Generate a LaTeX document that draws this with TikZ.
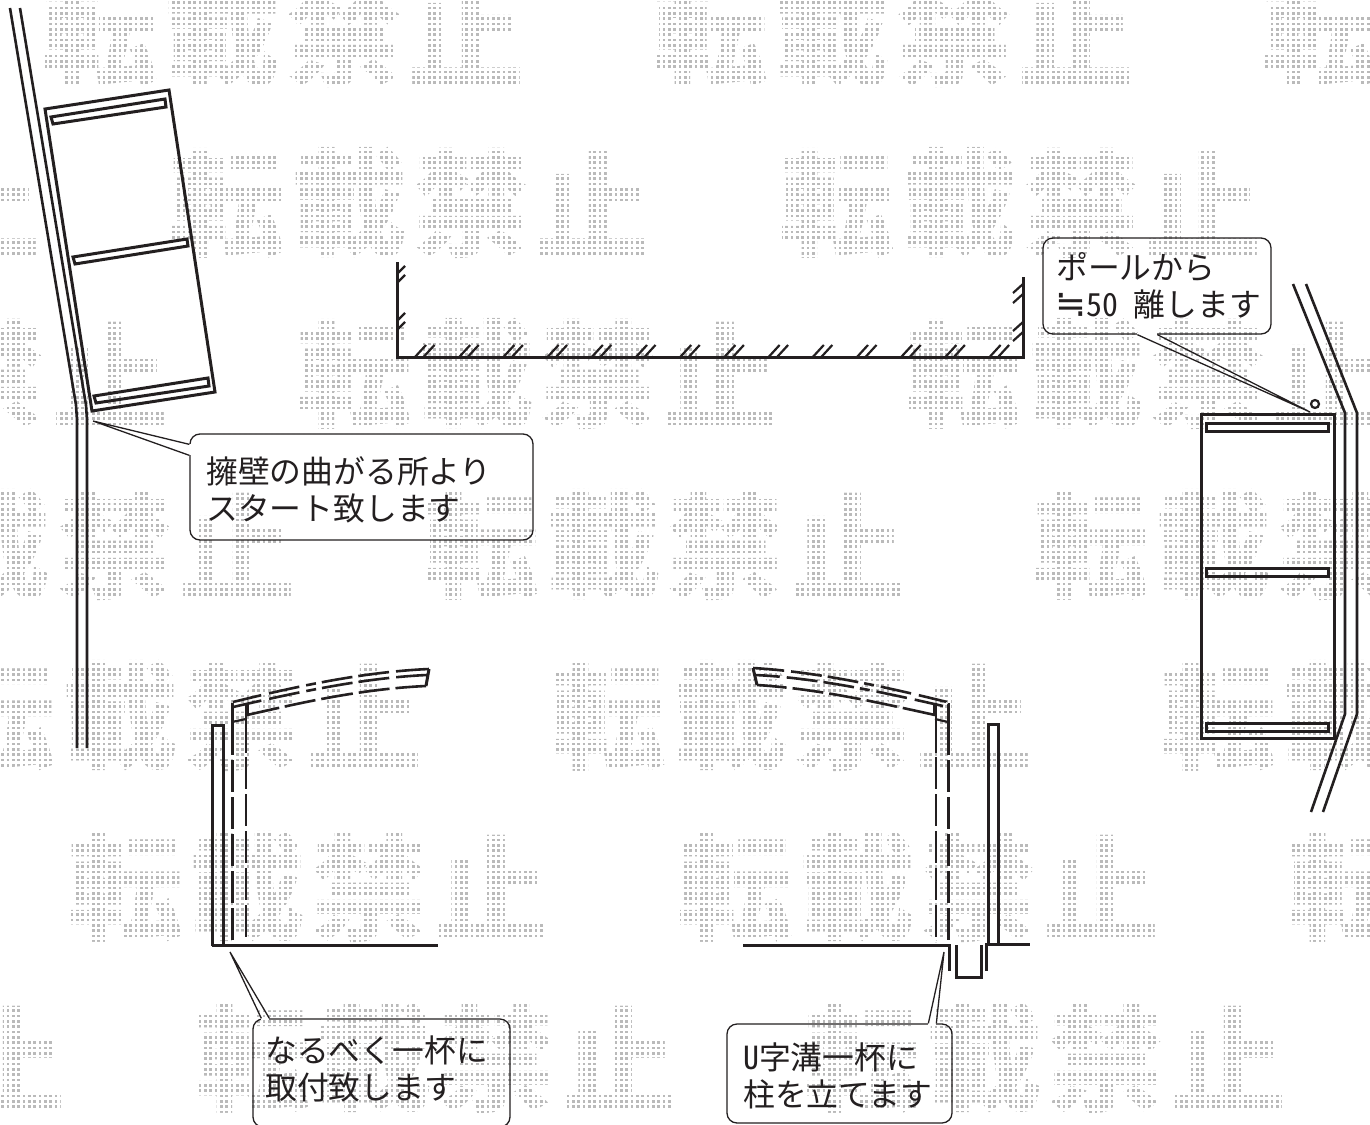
\documentclass[tikz,border=0pt]{standalone}
\usepackage{fontspec}
\usetikzlibrary{calc}
\newfontfamily\cjk[RawFeature=+hwid]{Noto Sans CJK JP}
\newfontfamily\cjkmark{Noto Sans CJK JP Black}
\newfontfamily\symfont{DejaVu Sans}
\definecolor{inkline}{HTML}{231F20}
\tikzset{
  wall/.style={line width=2.6,inkline},
  mainline/.style={line width=3,inkline},
  hatch/.style={line width=2.2,inkline},
  thinline/.style={line width=1.3,inkline},
  bubble/.style={draw=inkline,line width=1.3,rounded corners=10},
  notetext/.style={anchor=west,align=left,inner sep=0,inkline,font=\cjk\fontsize{31.8}{37}\selectfont},
  markchar/.style={inner sep=0,text=black!27,font=\cjkmark\fontsize{116}{116}\selectfont},
  postline/.style={line width=3,inkline,dash pattern=on 52 off 5 on 32 off 5 on 32 off 5 on 32 off 5 on 32 off 5 on 32 off 5},
  postthin/.style={line width=2.4,inkline,dash pattern=on 50 off 4 on 32 off 5 on 32 off 5 on 32 off 5 on 32 off 5 on 32 off 5},
  roofline/.style={line width=2.6,inkline,dash pattern=on 29 off 8 on 31 off 7 on 10 off 6 on 31 off 6 on 31 off 7 on 40 off 9},
  roofunder/.style={line width=2.6,inkline,dash pattern=on 33 off 6 on 31 off 6 on 32 off 6 on 31 off 6 on 32 off 6}
}
\begin{document}
\begin{tikzpicture}[x=1pt,y=-1pt]
\useasboundingbox (0,0) rectangle (1370,1124);
\clip (0,0) rectangle (1370,1124);

%WASSERZEICHEN
\foreach \r/\ya/\xa in {0/32/100,1/203/227,2/374/354,3/545/481,4/716/-2,5/887/125,6/1058/252}{
  \foreach \p in {-1,0,1,2}{
    \foreach \c [count=\i] in {転,載,禁,止}{
      \node [markchar] (m\r\p\i) at ({\xa+610*\p+122*(\i-1)},\ya) {\c};
    }
  }
}
\draw [white,line width=2.5,xstep=5.333pt,ystep=5.333pt] (0,1124) grid (1370,0);

%WAND LINKS
\draw [wall] (10,8) -- (76,405) -- (77,420) -- (77,748);
\draw [wall] (20,8) -- (86,405) -- (87,420) -- (87,748);

%TAFEL LINKS
\draw [mainline] (45,109) -- (169,90) -- (215,392) -- (92,411) -- cycle;
\draw [mainline] (51,117) -- (165,99) -- (166,107) -- (53,124) -- cycle;
\draw [mainline] (73,257) -- (187,239) -- (188,246) -- (75,264) -- cycle;
\draw [mainline] (94,396) -- (208,378) -- (209,386) -- (96,403) -- cycle;

%BLASE LINKS
\node [bubble,minimum width=343,minimum height=106] (wallnote) at (361.5,487) {};
\node [notetext] (walltext) at (206,490) {擁壁の曲がる所より\\スタート致します};

%GRUNDRISS MITTE
\draw [mainline] (397,262) -- (397,357) -- (1023,357) -- (1023,277);
\foreach \k in {0,...,13}{
  \draw [hatch] ({415+44.2*\k},357) -- ++(11,-12);
  \draw [hatch] ({423.5+44.2*\k},357) -- ++(11,-12);
}
\foreach \y in {274,283,321,330}{
  \draw [hatch] (397,\y) -- ++(8,-8);
}
\foreach \y in {284,294,322,332}{
  \draw [hatch] (1023,\y) -- ++(-10,9);
}

%TAFEL RECHTS
\draw [mainline] (1201,414) rectangle (1334,738);
\draw [mainline] (1206,423) rectangle (1328,431);
\draw [mainline] (1206,568) rectangle (1328,576);
\draw [mainline] (1206,723) rectangle (1328,731);
\draw [hatch] (1315,404) circle (4);

%WAND RECHTS
\draw [wall] (1293,284) -- (1345,413) -- (1345,714) -- (1311,812);
\draw [wall] (1306,284) -- (1357,413) -- (1357,714) -- (1323,812);

%BLASE RECHTS
\node [bubble,minimum width=228,minimum height=96] (polenote) at (1157,286) {};
\node [notetext] (poletext) at (1056,285.5) {ポールから\\\makebox[30pt][c]{\symfont\fontsize{37}{37}\selectfont ≒}50 離します};

%SCHNITT LINKS
\draw [mainline] (212,946) -- (212,725) -- (223,725) -- (223,946);
\draw [mainline] (212,945.5) -- (438,945.5);
\draw [postline] (232.5,703) -- (232.5,941);
\draw [postthin] (246,703) -- (246,939);
\draw [roofline] (233,702) .. controls (290,688) and (360,672) .. (429,669);
\draw [roofline] (233,707) .. controls (290,694) and (360,678) .. (427,675);
\draw [roofunder] (247,715) .. controls (300,703) and (360,689) .. (426,686);
\draw [mainline] (429,669) -- (426,686);
\draw [hatch] (232,722) -- (246,719);
\fill [inkline] (245,704) rectangle (249,715);
\fill [white] (235,704) circle (1.3);

%BLASE UNTEN LINKS
\node [bubble,minimum width=257,minimum height=108] (leftnote) at (381.5,1073) {};
\node [notetext] (lefttext) at (265,1069) {なるべく一杯に\\取付致します};

%SCHNITT RECHTS
\draw [mainline] (988,945) -- (988,724) -- (998,724) -- (998,945);
\draw [mainline] (743,945) -- (949,945) -- (949,971);
\draw [mainline] (956,945) -- (956,977) -- (981,977) -- (981,945);
\draw [mainline] (986,971) -- (986,944) -- (1030,944);
\draw [postthin] (936,703) -- (936,942);
\draw [postline] (948,703) -- (948,942);
\draw [roofline] (947,702) .. controls (890,688) and (820,672) .. (753,668);
\draw [roofline] (943,706) .. controls (890,694) and (820,678) .. (755,675);
\draw [roofunder] (935,715) .. controls (880,703) and (820,689) .. (757,685);
\draw [mainline] (753,668) -- (757,685);
\draw [hatch] (935,719) -- (948,722);
\fill [inkline] (933,703) rectangle (937,715);
\fill [white] (946.5,703.5) circle (1.3);

%BLASE UNTEN RECHTS
\node [bubble,minimum width=225,minimum height=99] (ditchnote) at (839.5,1073.5) {};
\node [notetext] (ditchtext) at (743,1075.5) {U字溝一杯に\\柱を立てます};

%ZEIGER
\coordinate (walltip) at (93,421);
\coordinate (poletip) at (1310,412);
\coordinate (lefttip) at (230,952);
\coordinate (ditchtip) at (944,952);
\draw [white,line width=2.4] ($(wallnote.north west)+(0,11)$) -- ($(wallnote.north west)+(0,22)$);
\draw [thinline] ($(wallnote.north west)+(0,11)$) -- (walltip) -- ($(wallnote.north west)+(0,22)$);
\draw [white,line width=2.4] ($(polenote.south west)+(95,0)$) -- ($(polenote.south west)+(115,0)$);
\draw [thinline] ($(polenote.south west)+(95,0)$) -- (poletip) -- ($(polenote.south west)+(115,0)$);
\draw [white,line width=2.4] ($(leftnote.north west)+(9,0)$) -- ($(leftnote.north west)+(17,0)$);
\draw [thinline] ($(leftnote.north west)+(9,0)$) -- (lefttip) -- ($(leftnote.north west)+(17,0)$);
\draw [white,line width=2.4] ($(ditchnote.north west)+(202,0)$) -- ($(ditchnote.north west)+(210,0)$);
\draw [thinline] ($(ditchnote.north west)+(202,0)$) -- (ditchtip) -- ($(ditchnote.north west)+(210,0)$);

\end{tikzpicture}
\end{document}
